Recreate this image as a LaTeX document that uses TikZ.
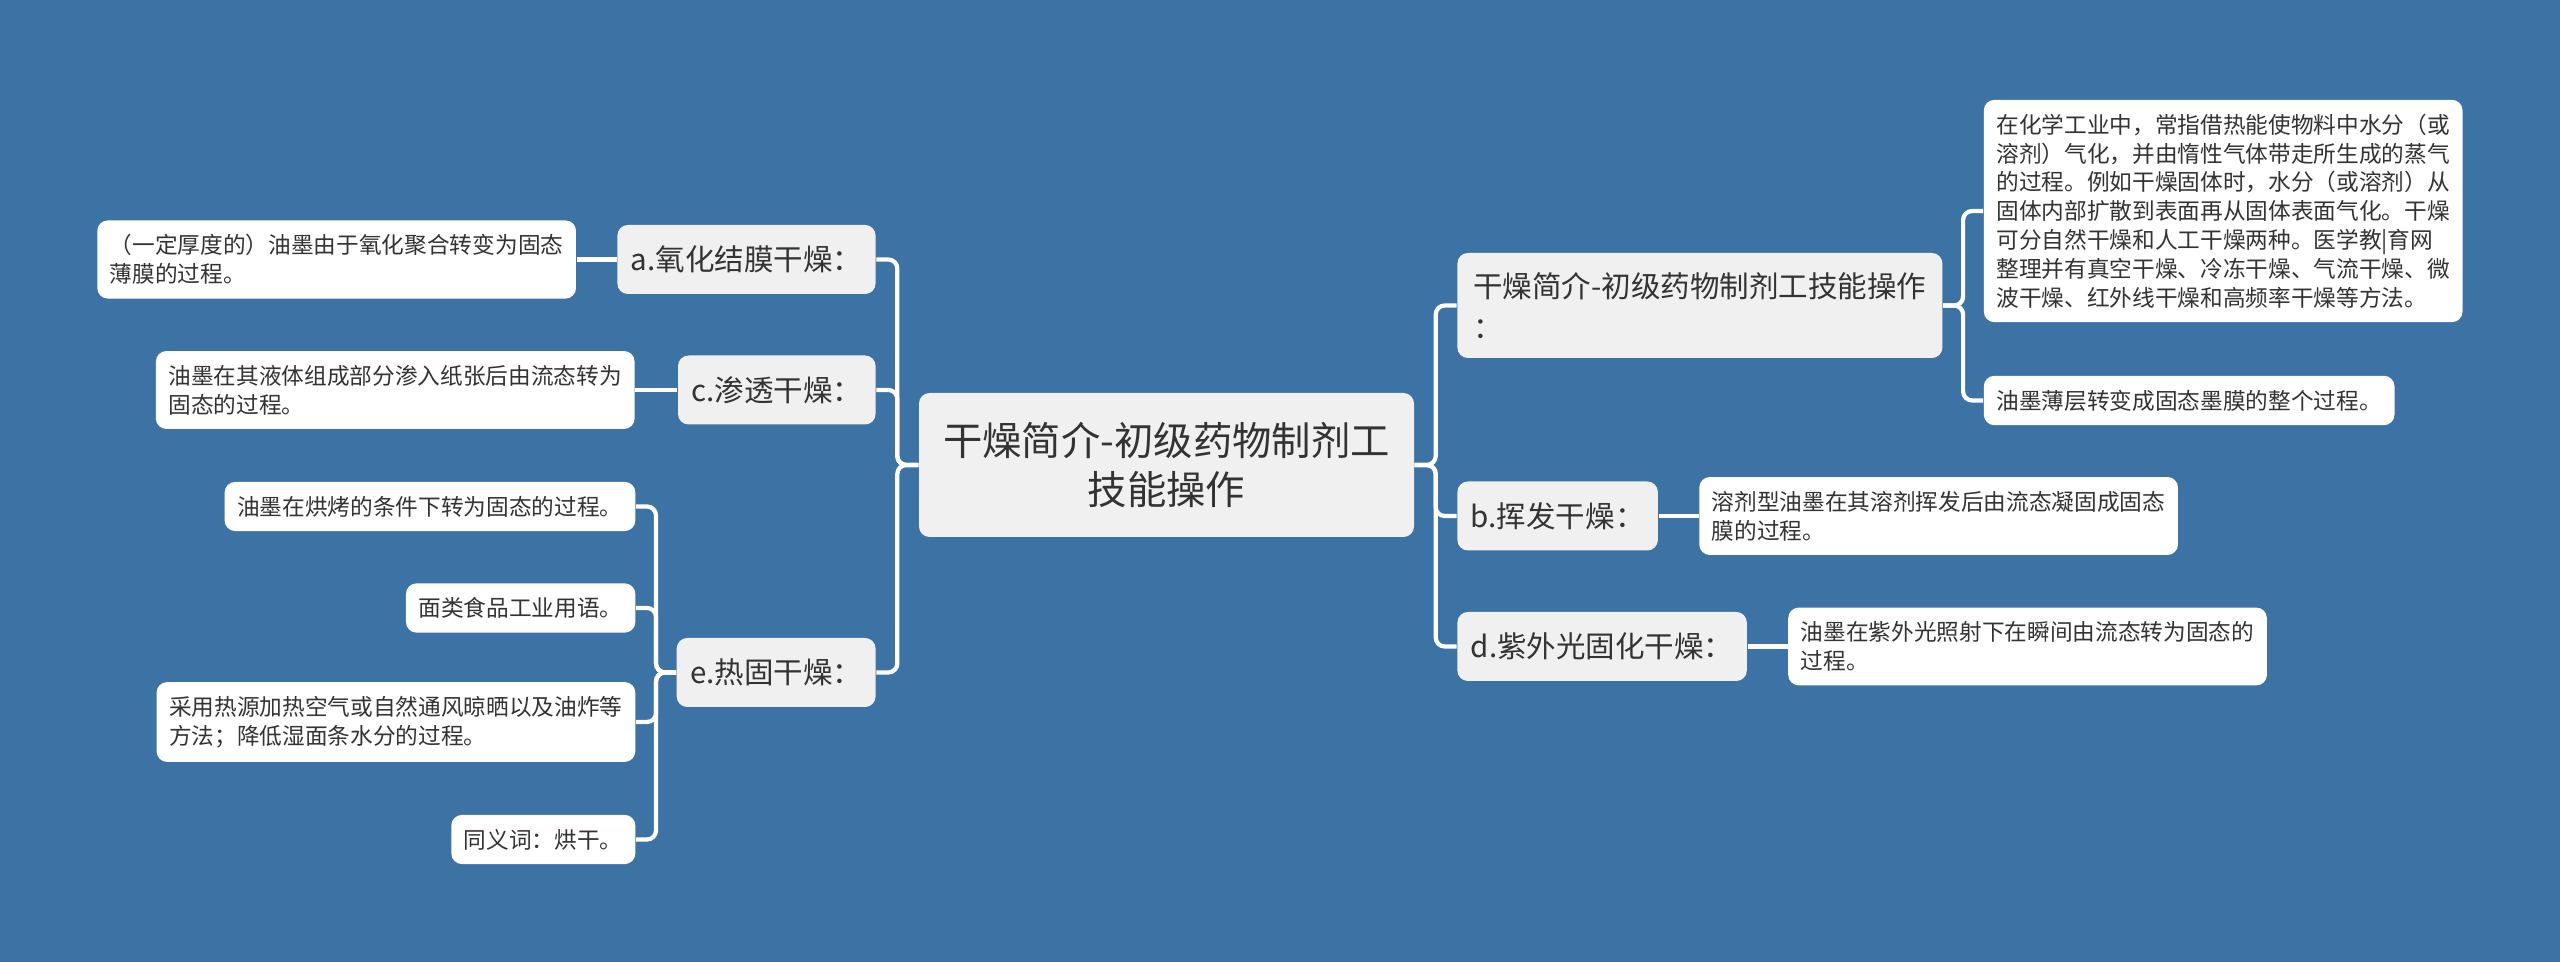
\documentclass[tikz,border=0pt]{standalone}
\usepackage{fontspec}
\newfontfamily\cjk{Noto Sans CJK SC}
\usetikzlibrary{positioning}
\definecolor{bgblue}{HTML}{3D72A5}
\definecolor{hubgray}{HTML}{F0F0F0}
\definecolor{inkgray}{HTML}{333333}

\begin{document}
\begin{tikzpicture}[
    node distance=0.42cm,
    topic/.style={rectangle, fill=hubgray, rounded corners=3pt, text=inkgray, align=center, minimum width=4.95cm, minimum height=1.44cm, font=\cjk\fontsize{11.2}{13.9}\selectfont},
    branch/.style={rectangle, fill=hubgray, rounded corners=3pt, text=inkgray, inner xsep=3.8pt, minimum height=0.69cm, align=left, font=\cjk\fontsize{8.4}{11.6}\selectfont},
    leaf/.style={rectangle, fill=white, rounded corners=3pt, text=inkgray, inner xsep=3.6pt, inner ysep=4pt, minimum height=0.49cm, align=left, font=\cjk\fontsize{6.45}{8.2}\selectfont},
    link/.style={draw=white, line width=1.2pt, rounded corners=0.09cm}
]

% Background
\fill[bgblue] (0,0) rectangle (25.6,-9.62);
\useasboundingbox (0,0) rectangle (25.6,-9.62);

% Central topic
\node[topic] (root) at (11.665,-4.65) {干燥简介-初级药物制剂工\\技能操作};

% Left branches
\node[branch, left=of root, yshift=2.055cm] (oxid) {a.氧化结膜干燥：};
\node[branch, left=of root, yshift=0.75cm] (perm) {c.渗透干燥：};
\node[branch, left=of root, yshift=-2.075cm] (heat) {e.热固干燥：};

% Right branches
\node[branch, right=of root, yshift=1.595cm, minimum height=1.05cm, minimum width=4.85cm] (intro) {干燥简介-初级药物制剂工技能操作\\：};
\node[branch, right=of root, yshift=-0.51cm] (evap) {b.挥发干燥：};
\node[branch, right=of root, yshift=-1.815cm] (uvcure) {d.紫外光固化干燥：};

% Left leaves
\node[leaf, left=0.40cm of oxid] (oxidtxt) {（一定厚度的）油墨由于氧化聚合转变为固态\\薄膜的过程。};
\node[leaf, left=0.42cm of perm] (permtxt) {油墨在其液体组成部分渗入纸张后由流态转为\\固态的过程。};
\node[leaf, left=0.40cm of heat, yshift=1.66cm] (heat1) {油墨在烘烤的条件下转为固态的过程。};
\node[leaf, left=0.40cm of heat, yshift=0.645cm] (heat2) {面类食品工业用语。};
\node[leaf, left=0.40cm of heat, yshift=-0.495cm] (heat3) {采用热源加热空气或自然通风晾晒以及油炸等\\方法；降低湿面条水分的过程。};
\node[leaf, left=0.40cm of heat, yshift=-1.67cm] (heat4) {同义词：烘干。};

% Right leaves
\node[leaf, right=0.40cm of intro, yshift=0.945cm] (intro1) {在化学工业中，常指借热能使物料中水分（或\\溶剂）气化，并由惰性气体带走所生成的蒸气\\的过程。例如干燥固体时，水分（或溶剂）从\\固体内部扩散到表面再从固体表面气化。干燥\\可分自然干燥和人工干燥两种。医学教|育网\\整理并有真空干燥、冷冻干燥、气流干燥、微\\波干燥、红外线干燥和高频率干燥等方法。};
\node[leaf, right=0.40cm of intro, yshift=-0.95cm] (intro2) {油墨薄层转变成固态墨膜的整个过程。};
\node[leaf, right=0.40cm of evap] (evaptxt) {溶剂型油墨在其溶剂挥发后由流态凝固成固态\\膜的过程。};
\node[leaf, right=0.40cm of uvcure] (uvtxt) {油墨在紫外光照射下在瞬间由流态转为固态的\\过程。};

% Links from the central topic
\draw[link] (root.west) -- ++(-0.21,0) |- (oxid.east);
\draw[link] (root.west) -- ++(-0.21,0) |- (perm.east);
\draw[link] (root.west) -- ++(-0.21,0) |- (heat.east);
\draw[link] (root.east) -- ++(0.21,0) |- (intro.west);
\draw[link] (root.east) -- ++(0.21,0) |- (evap.west);
\draw[link] (root.east) -- ++(0.21,0) |- (uvcure.west);

% Links to the leaves
\draw[link] (oxid.west) -- (oxidtxt.east);
\draw[link] (perm.west) -- (permtxt.east);
\draw[link] (heat.west) -- ++(-0.2,0) |- (heat1.east);
\draw[link] (heat.west) -- ++(-0.2,0) |- (heat2.east);
\draw[link] (heat.west) -- ++(-0.2,0) |- (heat3.east);
\draw[link] (heat.west) -- ++(-0.2,0) |- (heat4.east);
\draw[link] (intro.east) -- ++(0.2,0) |- (intro1.west);
\draw[link] (intro.east) -- ++(0.2,0) |- (intro2.west);
\draw[link] (evap.east) -- (evaptxt.west);
\draw[link] (uvcure.east) -- (uvtxt.west);

\end{tikzpicture}
\end{document}
